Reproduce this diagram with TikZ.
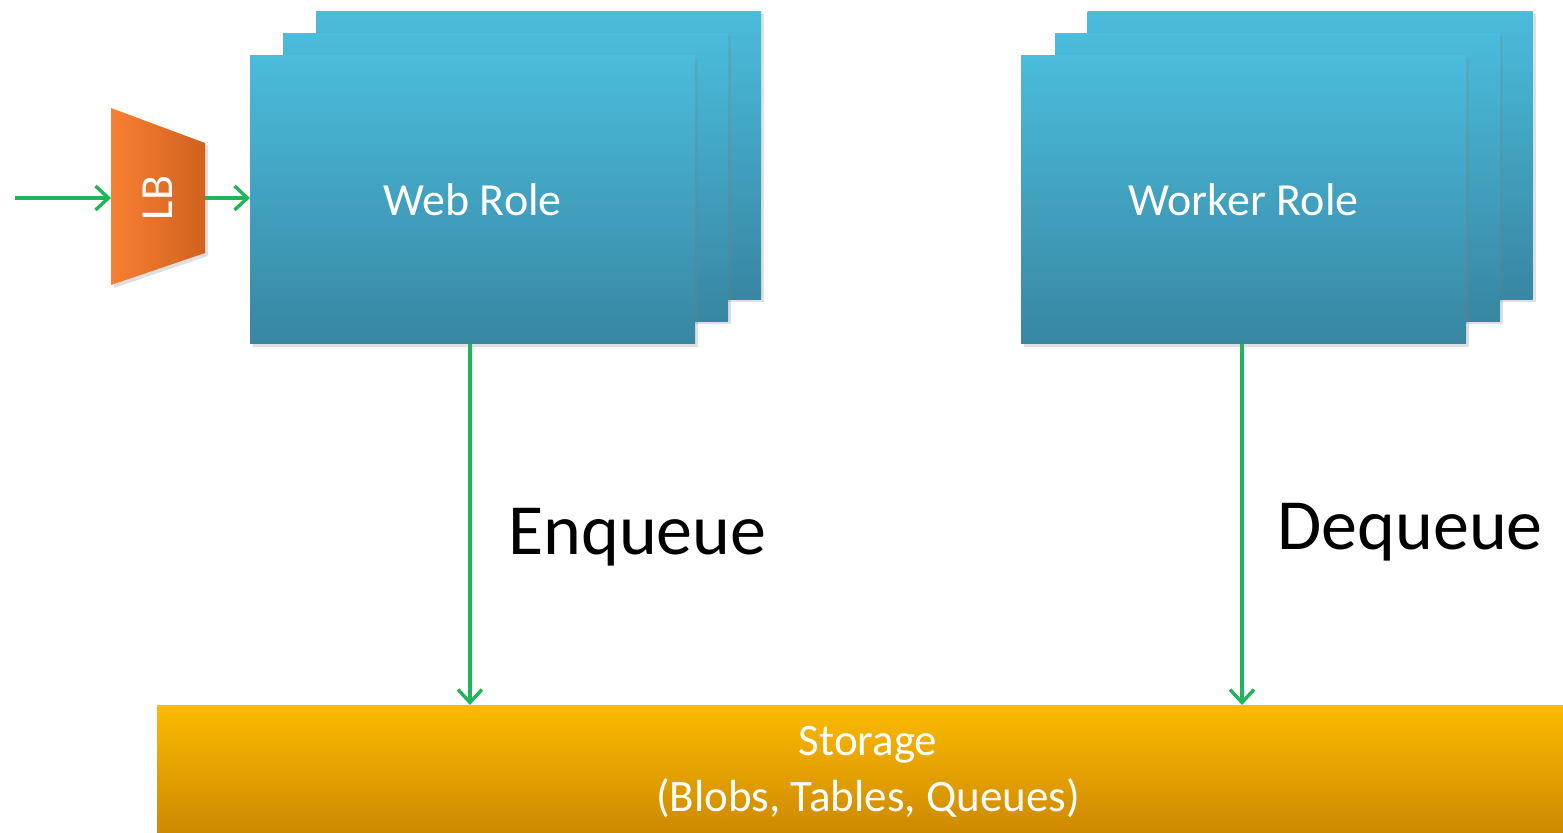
\documentclass[tikz,border=0pt]{standalone}
\usepackage{fontspec}
\setmainfont{Carlito}
\usetikzlibrary{arrows.meta,shadows,calc}
\definecolor{bluetop}{HTML}{4ABCDC}
\definecolor{bluebot}{HTML}{3886A2}
\definecolor{orleft}{HTML}{F77F33}
\definecolor{orright}{HTML}{D0621F}
\definecolor{sttop}{HTML}{FCBB00}
\definecolor{stbot}{HTML}{CE8900}
\definecolor{arrgreen}{HTML}{22B45A}
\tikzset{
  rolebox/.style={rectangle, inner sep=0pt, outer sep=0pt,
    minimum width=222.5pt, minimum height=144pt,
    top color=bluetop, bottom color=bluebot, draw=none,
    drop shadow={shadow xshift=1.5pt, shadow yshift=-1.5pt, opacity=0.25},
    text=white, font=\fontsize{23}{27}\selectfont},
  storebox/.style={rectangle, inner sep=0pt, outer sep=0pt,
    minimum width=711pt, minimum height=64pt,
    top color=sttop, bottom color=stbot, draw=none},
  storetext/.style={inner sep=0pt, text=white, align=center,
    font=\fontsize{22.5}{28}\selectfont},
  flow/.style={draw=arrgreen, line width=1.7pt,
    -{Straight Barb[length=6.5pt,width=12pt,line width=1.7pt]}},
  biglabel/.style={inner sep=0pt, font=\fontsize{36}{40}\selectfont, text=black}
}
\begin{document}
\begin{tikzpicture}[x=0.5pt,y=-0.5pt]
\useasboundingbox (0,0) rectangle (1563,833);
% web role stack
\node[rolebox] (webc) at (538.5,155.5) {};
\node[rolebox] (webb) at (505.5,177.5) {};
\node[rolebox] (web) at (472.5,200) {Web Role};
% worker role stack
\node[rolebox] (workc) at (1310,155.5) {};
\node[rolebox] (workb) at (1277.5,177.5) {};
\node[rolebox] (work) at (1243.5,200) {Worker Role};
% load balancer
\shade[left color=orleft, right color=orright,
  drop shadow={shadow xshift=1.5pt, shadow yshift=-1.5pt, opacity=0.25}]
  (111,108) -- (205,143) -- (205,253) -- (111,285) -- cycle;
\node[inner sep=0pt, outer sep=0pt, minimum width=47pt, minimum height=30pt,
  text=white, font=\fontsize{23}{27}\selectfont] (lb) at (158,198)
  {\rotatebox{90}{LB}};
% storage
\node[storebox] (store) at (868,769) {};
\node[storetext] (storelbl) at (868,772) {Storage\\(Blobs, Tables, Queues)};
% labels
\node[biglabel, anchor=base west] (enq) at (508,555) {Enqueue};
\node[biglabel, anchor=base west] (deq) at (1277,550) {Dequeue};
% connectors
\coordinate (src) at (15,198);
\draw[flow] (src) -- (src -| lb.west);
\draw[flow] (lb.east |- src) -- (src -| web.west);
\draw[flow] ($(web.south)+(-2.5,0)$) -- ($(web.south |- store.north)+(-2.5,0)$);
\draw[flow] ($(work.south)+(-1.5,0)$) -- ($(work.south |- store.north)+(-1.5,0)$);
\end{tikzpicture}
\end{document}
